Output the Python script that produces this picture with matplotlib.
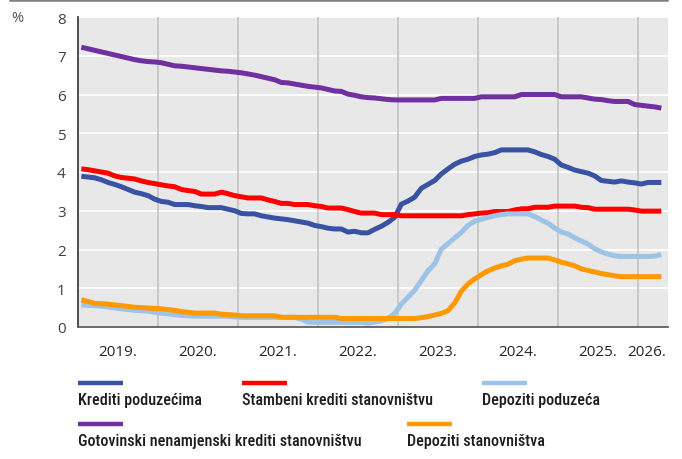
import numpy as np
import matplotlib.pyplot as plt
from matplotlib.lines import Line2D
from matplotlib import font_manager as fm

# Monthly interest rates (%), January 2019 onwards
year_labels = ["2019.", "2020.", "2021.", "2022.", "2023.", "2024.", "2025.", "2026."]
year_label_pos = [5.5, 17.5, 29.5, 41.5, 53.5, 65.5, 77.5, 84.8]
year_bounds = [11.5, 23.5, 35.5, 47.5, 59.5, 71.5, 83.5]

krediti_poduzecima = [
    3.89, 3.87, 3.85, 3.80, 3.73, 3.68, 3.62, 3.55, 3.48, 3.44, 3.39, 3.30,
    3.24, 3.22, 3.16, 3.16, 3.16, 3.13, 3.11, 3.08, 3.08, 3.08, 3.04, 3.00,
    2.93, 2.92, 2.92, 2.87, 2.84, 2.81, 2.79, 2.77, 2.74, 2.71, 2.68, 2.62,
    2.59, 2.55, 2.53, 2.53, 2.45, 2.47, 2.43, 2.43, 2.52, 2.60, 2.70, 2.83,
    3.17, 3.25, 3.35, 3.58, 3.68, 3.78, 3.95, 4.08, 4.20, 4.28, 4.33, 4.40,
    4.44, 4.46, 4.50, 4.57, 4.57, 4.57, 4.57, 4.57, 4.52, 4.45, 4.40, 4.33,
    4.18, 4.12, 4.05, 4.01, 3.97, 3.90, 3.78, 3.76, 3.74, 3.77, 3.74, 3.72,
    3.69, 3.73, 3.73, 3.73,
]

stambeni_krediti = [
    4.08, 4.06, 4.03, 4.00, 3.97, 3.90, 3.86, 3.84, 3.82, 3.77, 3.73, 3.70,
    3.67, 3.64, 3.62, 3.55, 3.52, 3.50, 3.43, 3.43, 3.43, 3.48, 3.44, 3.39,
    3.36, 3.33, 3.33, 3.33, 3.28, 3.24, 3.19, 3.19, 3.16, 3.16, 3.16, 3.13,
    3.11, 3.07, 3.07, 3.07, 3.03, 2.98, 2.94, 2.94, 2.94, 2.90, 2.90, 2.90,
    2.87, 2.87, 2.87, 2.87, 2.87, 2.87, 2.87, 2.87, 2.87, 2.87, 2.90, 2.92,
    2.94, 2.95, 2.98, 2.98, 2.98, 3.02, 3.05, 3.05, 3.09, 3.09, 3.09, 3.12,
    3.12, 3.12, 3.12, 3.09, 3.08, 3.04, 3.04, 3.04, 3.04, 3.04, 3.04, 3.02,
    2.99, 2.99, 2.99, 2.99,
]

depoziti_poduzeca = [
    0.57, 0.56, 0.55, 0.54, 0.52, 0.49, 0.47, 0.45, 0.43, 0.42, 0.41, 0.38,
    0.36, 0.34, 0.32, 0.30, 0.29, 0.28, 0.28, 0.28, 0.28, 0.28, 0.28, 0.26,
    0.25, 0.25, 0.25, 0.25, 0.25, 0.25, 0.25, 0.25, 0.25, 0.20, 0.13, 0.12,
    0.12, 0.12, 0.12, 0.12, 0.12, 0.12, 0.12, 0.10, 0.13, 0.16, 0.22, 0.35,
    0.59, 0.77, 0.95, 1.20, 1.45, 1.63, 2.01, 2.15, 2.30, 2.44, 2.62, 2.73,
    2.78, 2.83, 2.87, 2.90, 2.92, 2.92, 2.92, 2.92, 2.85, 2.76, 2.68, 2.55,
    2.45, 2.40, 2.30, 2.22, 2.14, 2.02, 1.94, 1.88, 1.84, 1.82, 1.82, 1.82,
    1.82, 1.82, 1.83, 1.87,
]

gotovinski_krediti = [
    7.22, 7.18, 7.14, 7.10, 7.06, 7.02, 6.98, 6.94, 6.90, 6.87, 6.85, 6.84,
    6.82, 6.78, 6.74, 6.73, 6.71, 6.69, 6.67, 6.65, 6.63, 6.61, 6.60, 6.58,
    6.56, 6.53, 6.50, 6.46, 6.42, 6.38, 6.31, 6.30, 6.27, 6.24, 6.21, 6.19,
    6.17, 6.13, 6.09, 6.08, 6.01, 5.98, 5.94, 5.92, 5.91, 5.89, 5.87, 5.86,
    5.86, 5.86, 5.86, 5.86, 5.86, 5.86, 5.90, 5.90, 5.90, 5.90, 5.90, 5.90,
    5.94, 5.94, 5.94, 5.94, 5.94, 5.94, 6.00, 6.00, 6.00, 6.00, 6.00, 6.00,
    5.94, 5.94, 5.94, 5.94, 5.91, 5.88, 5.87, 5.84, 5.82, 5.82, 5.82, 5.74,
    5.72, 5.70, 5.68, 5.65,
]

depoziti_stanovnistva = [
    0.70, 0.66, 0.61, 0.60, 0.59, 0.57, 0.55, 0.53, 0.51, 0.50, 0.49, 0.48,
    0.47, 0.45, 0.43, 0.40, 0.38, 0.36, 0.36, 0.36, 0.36, 0.33, 0.32, 0.31,
    0.29, 0.29, 0.29, 0.29, 0.29, 0.29, 0.25, 0.25, 0.25, 0.25, 0.25, 0.25,
    0.25, 0.25, 0.25, 0.22, 0.22, 0.22, 0.22, 0.22, 0.22, 0.22, 0.22, 0.22,
    0.22, 0.22, 0.22, 0.24, 0.27, 0.31, 0.35, 0.42, 0.62, 0.92, 1.11, 1.24,
    1.35, 1.45, 1.52, 1.58, 1.62, 1.71, 1.75, 1.78, 1.78, 1.78, 1.78, 1.73,
    1.67, 1.63, 1.58, 1.50, 1.46, 1.42, 1.38, 1.35, 1.32, 1.30, 1.30, 1.30,
    1.30, 1.30, 1.30, 1.30,
]

series = [
    ("Krediti poduzećima", krediti_poduzecima, "#3A52A3"),
    ("Stambeni krediti stanovništvu", stambeni_krediti, "#FF0000"),
    ("Depoziti poduzeća", depoziti_poduzeca, "#9DC3E6"),
    ("Gotovinski nenamjenski krediti stanovništvu", gotovinski_krediti, "#7030A0"),
    ("Depoziti stanovništva", depoziti_stanovnistva, "#FF9900"),
]

# pick a narrow face for the legend if one is available
installed = {f.name for f in fm.fontManager.ttflist}
narrow_stretch = {f.name for f in fm.fontManager.ttflist
                  if str(f.stretch) in ("condensed", "semi-condensed", "extra-condensed")}
leg_family, leg_stretch = "Lato", "normal"
for cand in ["Liberation Sans Narrow", "Roboto Condensed", "Open Sans Condensed",
             "DejaVu Sans Condensed", "Noto Sans Condensed"]:
    if cand in installed:
        leg_family = cand
        break
else:
    for cand in ["Roboto", "Open Sans", "Noto Sans", "DejaVu Sans"]:
        if cand in narrow_stretch:
            leg_family, leg_stretch = cand, "condensed"
            break

W, H = 682, 460
fig = plt.figure(figsize=(W / 100, H / 100), dpi=100)
fig.patch.set_facecolor("white")


def fx(px):
    return px / W


def fy(py):
    return 1 - py / H


ax = fig.add_axes([fx(78), fy(328), (668 - 78) / W, (328 - 18) / H])
ax.set_facecolor("#E8E8E8")
ax.set_xlim(-0.5, 88.0)
ax.set_ylim(0, 8)

# grid: white horizontals, grey year separators
for v in range(1, 9):
    ax.axhline(v, color="white", lw=1.3, zorder=1)
for b in year_bounds:
    ax.axvline(b, color="#C6C6C6", lw=1.3, zorder=1)

x = np.arange(len(krediti_poduzecima))
for name, vals, col in series:
    ax.plot(x, vals, color=col, lw=3.6, solid_capstyle="butt",
            solid_joinstyle="round", zorder=3)

tick_font = "Open Sans"
ax.set_yticks(range(0, 9))
ax.set_yticklabels([str(v) for v in range(0, 9)], fontsize=11,
                   color="#404040", family=tick_font)
ax.set_xticks(year_label_pos)
ax.set_xticklabels(year_labels, fontsize=11, color="#262626",
                   family=tick_font)
ax.tick_params(axis="both", length=0)
ax.tick_params(axis="y", pad=9)
ax.tick_params(axis="x", pad=12)

for s in ["top", "right"]:
    ax.spines[s].set_visible(False)
ax.spines["left"].set_color("#404040")
ax.spines["left"].set_linewidth(1.3)
ax.spines["bottom"].set_color("#606060")
ax.spines["bottom"].set_linewidth(1.3)

fig.text(fx(17), fy(18), "%", fontsize=10.5, color="#505050",
         family=tick_font, ha="center", va="center")

# top rule
fig.add_artist(Line2D([fx(10), fx(667)], [fy(1), fy(1)], color="#7F7F7F",
                      lw=1.8, transform=fig.transFigure))

# legend laid out by hand
legend_pos = [(78, 384), (242, 384), (482, 384), (78, 425), (407, 425)]
leg_texts = []
for (name, vals, col), (lx, ly) in zip(series, legend_pos):
    fig.add_artist(Line2D([fx(lx), fx(lx + 45)], [fy(ly), fy(ly)], color=col,
                          lw=3.2, solid_capstyle="butt",
                          transform=fig.transFigure))
    t = fig.text(fx(lx), fy(ly + 21), name, fontsize=11.5, color="#1E1E1E",
                 family=leg_family, fontstretch=leg_stretch, weight="medium",
                 ha="left", va="baseline")
    leg_texts.append(t)

# size the legend text so the longest entry spans ~283 px
renderer = fig.canvas.get_renderer()
longest = leg_texts[3]
w = longest.get_window_extent(renderer).width
size = 11.5 * 283.0 / w
size = min(size, 12.5)
for t in leg_texts:
    t.set_fontsize(size)

fig.savefig("out.png", dpi=100)
